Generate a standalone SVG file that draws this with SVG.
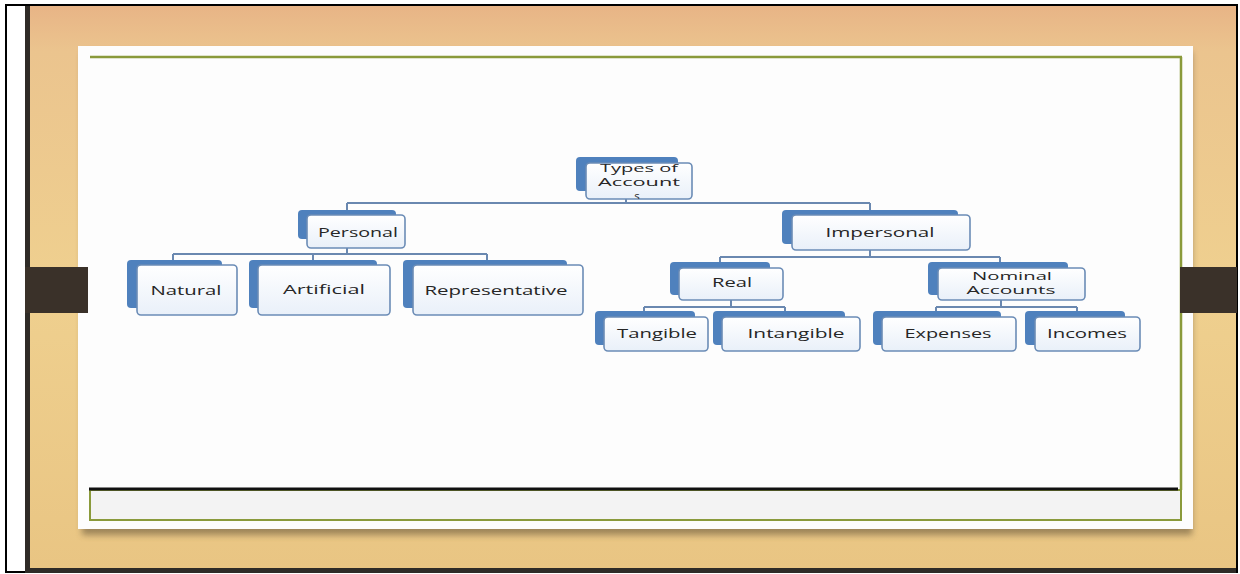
<svg xmlns="http://www.w3.org/2000/svg" width="1240" height="574" viewBox="0 0 1240 574">
<defs>
<linearGradient id="wood" x1="0" y1="0" x2="0" y2="1">
<stop offset="0" stop-color="#e8b486"/>
<stop offset="0.08" stop-color="#ebc48e"/>
<stop offset="0.5" stop-color="#efd08f"/>
<stop offset="1" stop-color="#e9c583"/>
</linearGradient>
<linearGradient id="fg" x1="0" y1="0" x2="0" y2="1">
<stop offset="0" stop-color="#ffffff"/>
<stop offset="1" stop-color="#e9f0f9"/>
</linearGradient>
<filter id="sh" x="-5%" y="-5%" width="110%" height="120%">
<feGaussianBlur stdDeviation="3"/>
</filter>
<clipPath id="tclip"><rect x="586" y="163" width="106" height="36" rx="4"/></clipPath>
<style>
.back{fill:#4f81bd}
.front{fill:url(#fg);stroke:#6b8cb6;stroke-width:1.6}
.lbl{font-family:"Open Sans","DejaVu Sans",sans-serif;font-size:13.5px;fill:#262626;text-anchor:middle}
.sm{font-size:11.5px}
.conn{stroke:#6a88b0;stroke-width:2;fill:none}
</style>
</defs>
<rect x="0" y="0" width="1240" height="574" fill="#ffffff"/>
<g id="frame">
<rect x="25" y="5" width="1212" height="568" fill="#2f2b27"/>
<rect x="30" y="6" width="1206" height="562" fill="url(#wood)"/>
<line x1="6" y1="5" x2="6" y2="573" stroke="#000" stroke-width="2"/>
<line x1="5" y1="5" x2="1238" y2="5" stroke="#000" stroke-width="2"/>
<line x1="1237" y1="5" x2="1237" y2="573" stroke="#000" stroke-width="2"/>
<line x1="5" y1="572" x2="25" y2="572" stroke="#000" stroke-width="2"/>
<rect x="82" y="52" width="1110" height="483" fill="#6b5a3e" opacity="0.6" filter="url(#sh)"/>
<rect x="78" y="46" width="1115" height="483" fill="#fdfdfd"/>
<rect x="90" y="490" width="1091" height="30" fill="#f3f3f3" stroke="#8a9a3b" stroke-width="2"/>
<line x1="90" y1="57" x2="1182" y2="57" stroke="#8a9a3b" stroke-width="2.5"/>
<line x1="1181" y1="57" x2="1181" y2="490" stroke="#8a9a3b" stroke-width="2.5"/>
<line x1="89" y1="489" x2="1178" y2="489" stroke="#111" stroke-width="3"/>
<rect x="25" y="267" width="63" height="46" fill="#3a3129"/>
<rect x="1180" y="267" width="57" height="46" fill="#3a3129"/>
</g>
<g id="connectors">
<path class="conn" d="M626 199V203M347 203H870M347 203V210M870 203V210"/>
<path class="conn" d="M347 248V254M173 254H487M173 254V260M313 254V260M487 254V260"/>
<path class="conn" d="M870 250V257M720 257H1000M720 257V262M1000 257V262"/>
<path class="conn" d="M731 300V307M644 307H785M644 307V311M785 307V311"/>
<path class="conn" d="M1001 300V307M936 307H1077M936 307V311M1077 307V311"/>
</g>
<g id="n-types">
<rect class="back" x="576" y="157" width="102" height="34" rx="4"/>
<rect class="front" x="586" y="163" width="106" height="36" rx="4"/>
<g clip-path="url(#tclip)">
<text class="lbl sm" x="639" y="172" textLength="78" lengthAdjust="spacingAndGlyphs">Types of</text>
<text class="lbl sm" x="639" y="186" textLength="82" lengthAdjust="spacingAndGlyphs">Account</text>
<text class="lbl sm" x="637" y="200">s</text>
</g>
</g>
<g id="n-personal">
<rect class="back" x="298" y="210" width="98" height="29" rx="4"/>
<rect class="front" x="307" y="215" width="98" height="33" rx="4"/>
<text class="lbl" x="358" y="237" textLength="80" lengthAdjust="spacingAndGlyphs">Personal</text>
</g>
<g id="n-impersonal">
<rect class="back" x="782" y="210" width="176" height="34" rx="4"/>
<rect class="front" x="792" y="215" width="178" height="35" rx="4"/>
<text class="lbl" x="880" y="237" textLength="109" lengthAdjust="spacingAndGlyphs">Impersonal</text>
</g>
<g id="n-natural">
<rect class="back" x="127" y="260" width="95" height="48" rx="4"/>
<rect class="front" x="137" y="265" width="100" height="50" rx="4"/>
<text class="lbl" x="186" y="295" textLength="71" lengthAdjust="spacingAndGlyphs">Natural</text>
</g>
<g id="n-artificial">
<rect class="back" x="249" y="260" width="128" height="48" rx="4"/>
<rect class="front" x="258" y="265" width="132" height="50" rx="4"/>
<text class="lbl" x="324" y="294" textLength="82" lengthAdjust="spacingAndGlyphs">Artificial</text>
</g>
<g id="n-representative">
<rect class="back" x="403" y="260" width="164" height="48" rx="4"/>
<rect class="front" x="413" y="265" width="170" height="50" rx="4"/>
<text class="lbl" x="496" y="295" textLength="143" lengthAdjust="spacingAndGlyphs">Representative</text>
</g>
<g id="n-real">
<rect class="back" x="670" y="262" width="100" height="33" rx="4"/>
<rect class="front" x="679" y="268" width="104" height="32" rx="4"/>
<text class="lbl" x="732" y="287" textLength="40" lengthAdjust="spacingAndGlyphs">Real</text>
</g>
<g id="n-nominal">
<rect class="back" x="928" y="262" width="140" height="33" rx="4"/>
<rect class="front" x="938" y="268" width="147" height="32" rx="4"/>
<text class="lbl sm" x="1012" y="280" textLength="80" lengthAdjust="spacingAndGlyphs">Nominal</text>
<text class="lbl sm" x="1011" y="294" textLength="89" lengthAdjust="spacingAndGlyphs">Accounts</text>
</g>
<g id="n-tangible">
<rect class="back" x="595" y="311" width="100" height="34" rx="4"/>
<rect class="front" x="604" y="317" width="104" height="34" rx="4"/>
<text class="lbl" x="657" y="338" textLength="80" lengthAdjust="spacingAndGlyphs">Tangible</text>
</g>
<g id="n-intangible">
<rect class="back" x="713" y="311" width="132" height="34" rx="4"/>
<rect class="front" x="722" y="317" width="138" height="34" rx="4"/>
<text class="lbl" x="796" y="338" textLength="97" lengthAdjust="spacingAndGlyphs">Intangible</text>
</g>
<g id="n-expenses">
<rect class="back" x="873" y="311" width="128" height="34" rx="4"/>
<rect class="front" x="882" y="317" width="134" height="34" rx="4"/>
<text class="lbl" x="948" y="338" textLength="87" lengthAdjust="spacingAndGlyphs">Expenses</text>
</g>
<g id="n-incomes">
<rect class="back" x="1025" y="311" width="100" height="34" rx="4"/>
<rect class="front" x="1035" y="317" width="105" height="34" rx="4"/>
<text class="lbl" x="1087" y="338" textLength="80" lengthAdjust="spacingAndGlyphs">Incomes</text>
</g>
</svg>
